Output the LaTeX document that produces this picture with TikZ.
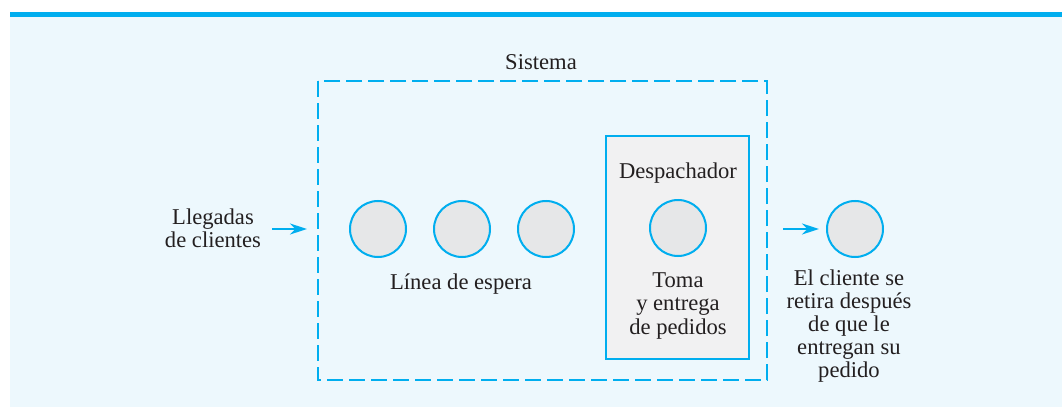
\documentclass[tikz,border=0pt]{standalone}
\usepackage{fontspec}
\setmainfont{Liberation Serif}
\usetikzlibrary{arrows.meta}

\definecolor{azul}{RGB}{0,174,239}
\definecolor{fondo}{RGB}{237,248,253}
\definecolor{grisc}{RGB}{230,231,232}
\definecolor{grisbox}{RGB}{241,241,242}
\definecolor{tinta}{RGB}{35,31,32}

\begin{document}
\begin{tikzpicture}[
  x=0.5pt, y=-0.5pt,
  line join=miter,
  every node/.style={font=\fontsize{11.3}{11.6}\selectfont, text=tinta},
  cliente/.style={circle, draw=azul, fill=grisc, line width=1pt,
    minimum size=28pt, inner sep=0pt},
  flecha/.style={draw=azul, line width=1pt, -{Stealth[length=8.5pt,width=5.5pt]}},
  texto/.style={align=center, inner sep=0pt}
]

% Background and top band
\useasboundingbox (0,0) rectangle (1062,407);
\fill[white] (0,0) rectangle (1062,407);
\fill[fondo] (10,17) rectangle (1062,407);
\fill[azul] (10,12) rectangle (1062,17);

% --- System boundary ---
\draw[azul, line width=1pt, dash pattern=on 8pt off 3pt] (318,81) rectangle (767,380);
\node[texto] (sistema) at (541,62) {Sistema};

% Server box
\draw[azul, fill=grisbox, line width=1pt] (606,136) rectangle (749,359);
\node[texto] (desp) at (678,173) {Despachador};
\node[cliente] (servidor) at (678,228) {};
\node[texto] (toma) at (678,306) {Toma\\y entrega\\de pedidos};

% Waiting line
\node[cliente] (c1) at (378,229) {};
\node[cliente] (c2) at (462,229) {};
\node[cliente] (c3) at (546,229) {};
\node[texto] (linea) at (461,284) {Línea de espera};

% --- Arrivals ---
\node[texto] (llegadas) at (213,228) {Llegadas\\de clientes};
\coordinate (entA) at (272,229);
\coordinate (entB) at (307,229);
\draw[flecha] (entA) -- (entB);

% --- Departure ---
\node[cliente] (salida) at (855,229) {};
\coordinate (salA) at (783,229);
\draw[flecha, shorten >=3.5pt] (salA) -- (salida.west);
\node[texto] (retira) at (849,326) {El cliente se\\retira después\\de que le\\entregan su\\pedido};

\end{tikzpicture}
\end{document}
